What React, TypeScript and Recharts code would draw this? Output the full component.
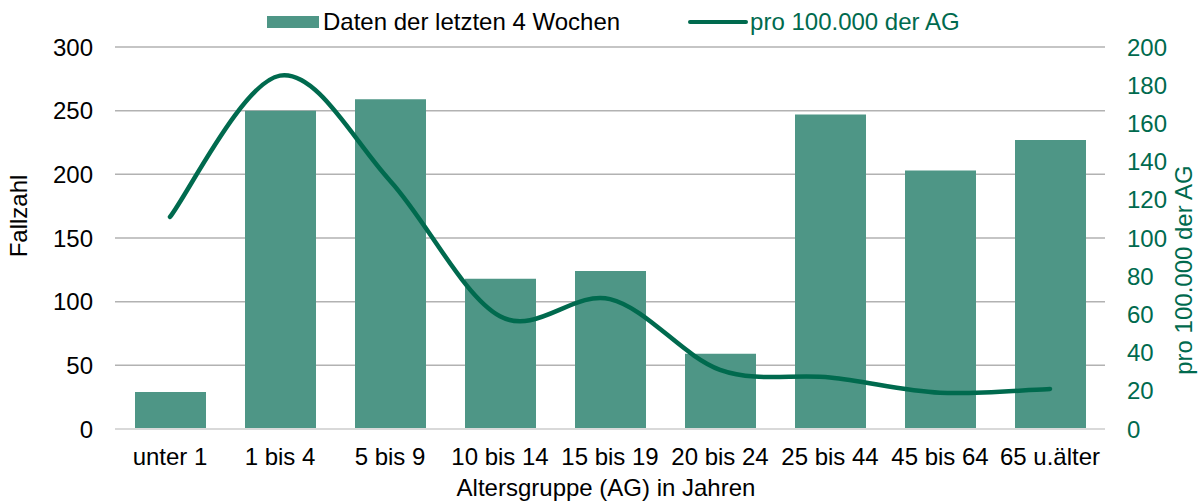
import { Bar, CartesianGrid, ComposedChart, Legend, Line, XAxis, YAxis } from 'recharts';

const ageGroups = ['unter 1', '1 bis 4', '5 bis 9', '10 bis 14', '15 bis 19', '20 bis 24', '25 bis 44', '45 bis 64', '65 u.älter'];
const cases = [29, 250, 259, 118, 124, 59, 247, 203, 227];
const per100k = [111, 185, 130, 59, 68, 31, 27, 19, 21];
const caseTicks = [0, 50, 100, 150, 200, 250, 300];
const rateTicks = [0, 20, 40, 60, 80, 100, 120, 140, 160, 180, 200];

const BAR_COLOR = '#4e9686';
const LINE_COLOR = '#006a4e';
const FONT = '"Liberation Sans", Arial, sans-serif';
const FS = 24;

const data = ageGroups.map((group, i) => ({ group, cases: cases[i], rate: per100k[i] }));

// smoothed line like the office chart (catmull-rom style bezier)
const smoothCurve = (ctx: any) => {
  let pts: [number, number][] = [];
  return {
    areaStart() {},
    areaEnd() {},
    lineStart() {
      pts = [];
    },
    point(x: number, y: number) {
      pts.push([+x, +y]);
    },
    lineEnd() {
      const n = pts.length;
      if (!n) return;
      ctx.moveTo(pts[0][0], pts[0][1]);
      for (let i = 0; i < n - 1; i++) {
        const p0 = pts[Math.max(i - 1, 0)];
        const p1 = pts[i];
        const p2 = pts[i + 1];
        const p3 = pts[Math.min(i + 2, n - 1)];
        ctx.bezierCurveTo(
          p1[0] + (p2[0] - p0[0]) / 6,
          p1[1] + (p2[1] - p0[1]) / 6,
          p2[0] - (p3[0] - p1[0]) / 6,
          p2[1] - (p3[1] - p1[1]) / 6,
          p2[0],
          p2[1],
        );
      }
    },
  };
};

function LegendContent() {
  return (
    <div style={{ height: 34, display: 'flex', alignItems: 'center', paddingLeft: 267, fontFamily: FONT, fontSize: FS }}>
      <span style={{ display: 'inline-block', width: 52, height: 12, background: BAR_COLOR, marginRight: 4 }} />
      <span style={{ color: '#000' }}>Daten der letzten 4 Wochen</span>
      <span
        style={{ display: 'inline-block', width: 60, height: 4, borderRadius: 2, background: LINE_COLOR, marginLeft: 68, marginRight: 2 }}
      />
      <span style={{ color: LINE_COLOR }}>pro 100.000 der AG</span>
    </div>
  );
}

export default function App() {
  return (
    <div style={{ position: 'absolute', left: 0, top: 0, background: '#fff' }}>
      <ComposedChart width={1200} height={501} data={data} margin={{ top: 13, right: 0, bottom: 0, left: 0 }}>
        <CartesianGrid yAxisId="left" vertical={false} stroke="#b2b2b2" strokeWidth={1.5} />
        <XAxis
          dataKey="group"
          height={72}
          tickSize={0}
          tickMargin={19}
          tickLine={false}
          axisLine={{ stroke: '#d9d9d9', strokeWidth: 2 }}
          tick={{ fill: '#000', fontSize: FS, fontFamily: FONT }}
          interval={0}
          label={{ value: 'Altersgruppe (AG) in Jahren', position: 'center', dx: -4, dy: 22, fill: '#000', fontSize: FS, fontFamily: FONT }}
        />
        <YAxis
          yAxisId="left"
          width={115}
          domain={[0, 300]}
          ticks={caseTicks}
          tickSize={0}
          tickMargin={22}
          axisLine={false}
          tickLine={false}
          tick={{ fill: '#000', fontSize: FS, fontFamily: FONT }}
          label={{ value: 'Fallzahl', angle: -90, position: 'center', dx: -39, dy: -22, fill: '#000', fontSize: FS, fontFamily: FONT }}
        />
        <YAxis
          yAxisId="right"
          orientation="right"
          width={95}
          domain={[0, 200]}
          ticks={rateTicks}
          interval={0}
          tickSize={0}
          tickMargin={22}
          axisLine={false}
          tickLine={false}
          tick={{ fill: LINE_COLOR, fontSize: FS, fontFamily: FONT }}
          label={{ value: 'pro 100.000 der AG', angle: -90, position: 'center', dx: 31, dy: 32, fill: LINE_COLOR, fontSize: FS, fontFamily: FONT }}
        />
        <Legend verticalAlign="top" align="left" wrapperStyle={{ top: 5, left: 0, width: 1200 }} content={() => <LegendContent />} />
        <Bar yAxisId="left" dataKey="cases" name="Daten der letzten 4 Wochen" fill={BAR_COLOR} barSize={71} isAnimationActive={false} />
        <Line
          yAxisId="right"
          dataKey="rate"
          name="pro 100.000 der AG"
          type={smoothCurve as any}
          stroke={LINE_COLOR}
          strokeWidth={4.5}
          strokeLinecap="round"
          dot={false}
          activeDot={false}
          isAnimationActive={false}
        />
      </ComposedChart>
    </div>
  );
}
